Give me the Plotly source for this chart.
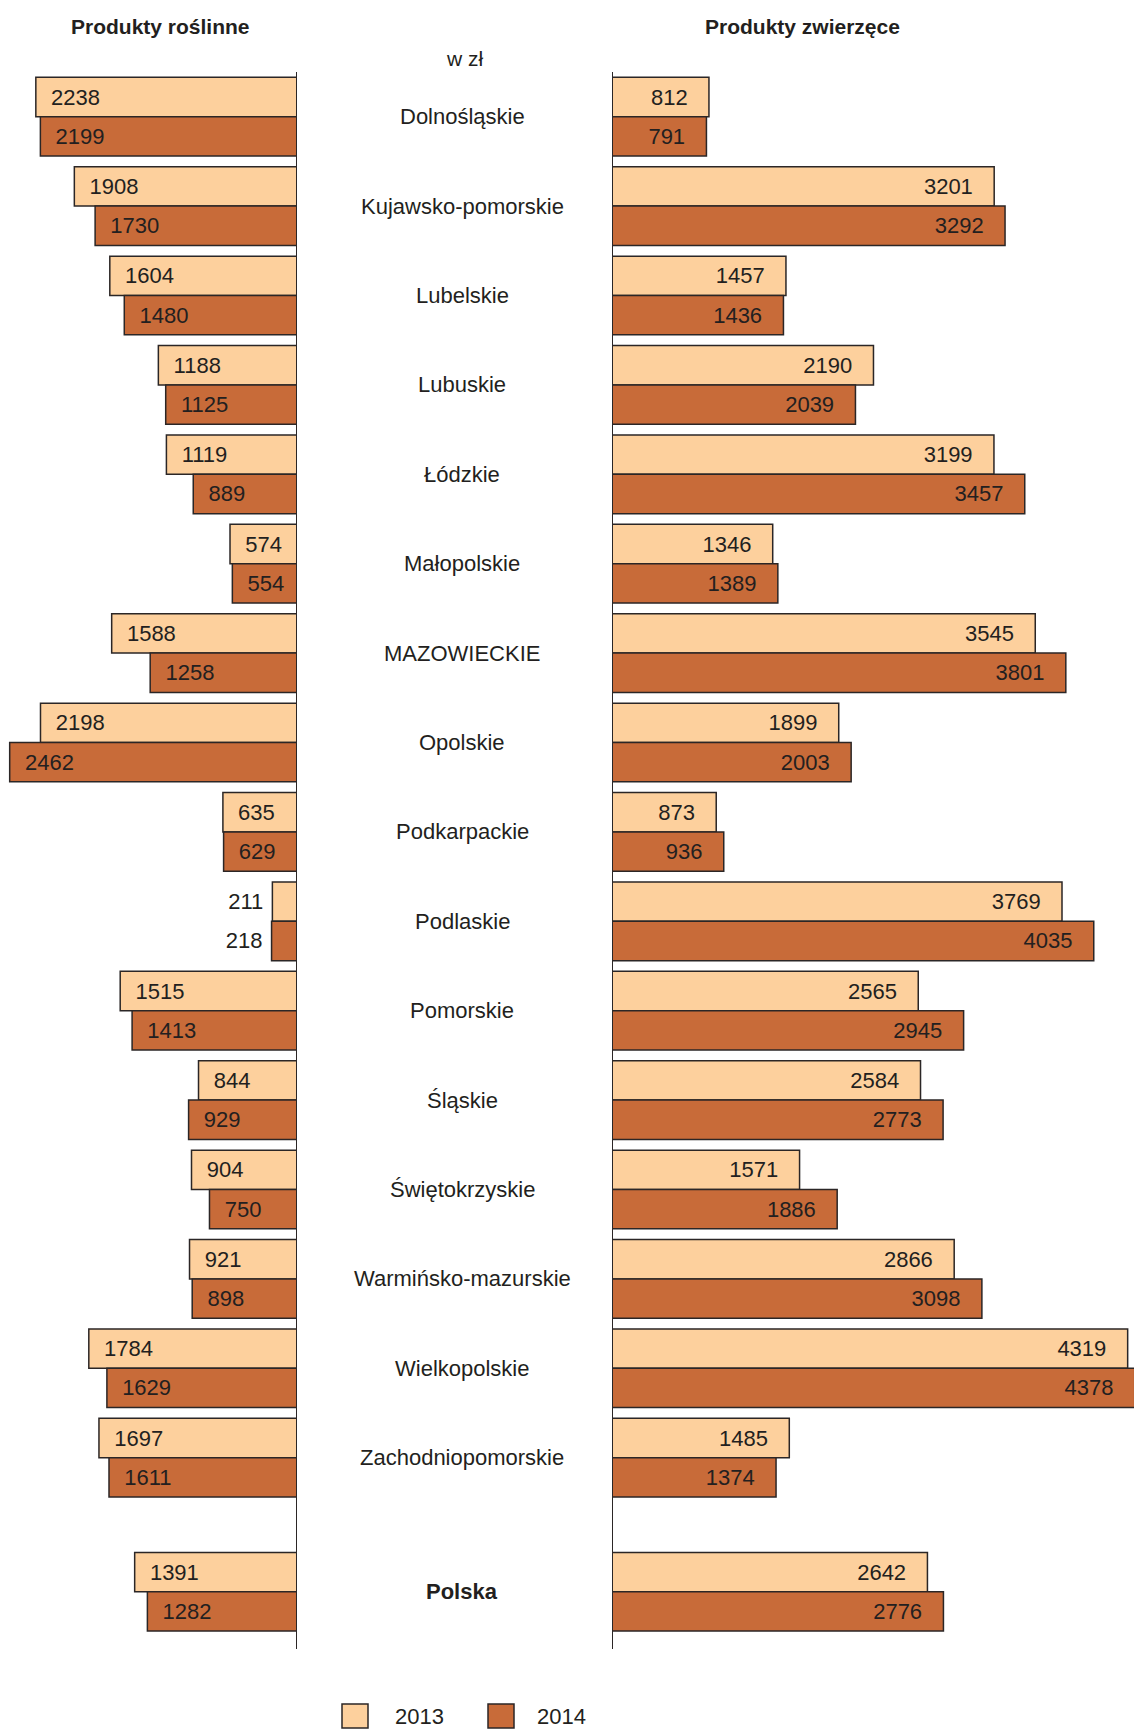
import plotly.graph_objects as go

regions = ["Dolnośląskie", "Kujawsko-pomorskie", "Lubelskie", "Lubuskie", "Łódzkie",
           "Małopolskie", "MAZOWIECKIE", "Opolskie", "Podkarpackie", "Podlaskie",
           "Pomorskie", "Śląskie", "Świętokrzyskie", "Warmińsko-mazurskie",
           "Wielkopolskie", "Zachodniopomorskie", "Polska"]
plant_2013 = [2238, 1908, 1604, 1188, 1119, 574, 1588, 2198, 635, 211, 1515, 844, 904, 921, 1784, 1697, 1391]
plant_2014 = [2199, 1730, 1480, 1125, 889, 554, 1258, 2462, 629, 218, 1413, 929, 750, 898, 1629, 1611, 1282]
animal_2013 = [812, 3201, 1457, 2190, 3199, 1346, 3545, 1899, 873, 3769, 2565, 2584, 1571, 2866, 4319, 1485, 2642]
animal_2014 = [791, 3292, 1436, 2039, 3457, 1389, 3801, 2003, 936, 4035, 2945, 2773, 1886, 3098, 4378, 1374, 2776]
years = ["2013", "2014"]

COL13 = "#fdd09d"
COL14 = "#c86b39"
EDGE = "#2b2626"
TXT = "#231f20"
FONT = "Liberation Sans, Arial, sans-serif"
W, H = 1134, 1729
NUM_SIZE = 22

# category positions: the national total is set apart from the regions
ypos = [i for i in range(len(regions) - 1)] + [len(regions) - 1 + 0.5]

NB = "\u00a0"

def left_text(vals):
    txt, pos = [], []
    for v in vals:
        if v < 400:
            txt.append(f"{v}{NB}")
            pos.append("outside")
        else:
            txt.append(f"{NB}{NB}{v}")
            pos.append("inside")
    return txt, pos

def right_text(vals):
    return [f"{v}{NB}{NB}{NB}" for v in vals], ["inside"] * len(vals)

fig = go.Figure()
for vals, col, name in [(plant_2013, COL13, years[0]), (plant_2014, COL14, years[1])]:
    t, p = left_text(vals)
    fig.add_trace(go.Bar(x=vals, y=ypos, orientation="h", name=name, xaxis="x", yaxis="y",
                         marker=dict(color=col, line=dict(color=EDGE, width=1.5)),
                         text=t, textposition=p, insidetextanchor="end",
                         textfont=dict(family=FONT, size=NUM_SIZE, color=TXT),
                         showlegend=False, hoverinfo="x"))
for vals, col, name in [(animal_2013, COL13, years[0]), (animal_2014, COL14, years[1])]:
    t, p = right_text(vals)
    fig.add_trace(go.Bar(x=vals, y=ypos, orientation="h", name=name, xaxis="x2", yaxis="y",
                         marker=dict(color=col, line=dict(color=EDGE, width=1.5)),
                         text=t, textposition=p, insidetextanchor="end",
                         textfont=dict(family=FONT, size=NUM_SIZE, color=TXT),
                         showlegend=False, hoverinfo="x"))

left_axis_px = 297
right_axis_px = 612
fig.update_layout(
    width=W, height=H, margin=dict(l=0, r=0, t=0, b=0),
    paper_bgcolor="white", plot_bgcolor="white",
    barmode="group", bargap=0.12, bargroupgap=0,
    uniformtext=dict(minsize=NUM_SIZE, mode="show"),
    xaxis=dict(domain=[0, left_axis_px / W], range=[2545, 0], visible=False, anchor="y"),
    xaxis2=dict(domain=[right_axis_px / W, 1], range=[0, 4372], visible=False, anchor="y"),
    yaxis=dict(domain=[1 - 1649 / H, 1 - 72 / H], range=[17.14, -0.5], visible=False),
    font=dict(family=FONT, color=TXT),
)

# axis lines
for xr in ["x", "x2"]:
    fig.add_shape(type="line", xref=xr, x0=0, x1=0, yref="y domain", y0=0, y1=1,
                  line=dict(color=EDGE, width=2), layer="above")

# category labels
for name, y in zip(regions, ypos):
    bold = name == "Polska"
    fig.add_annotation(x=462 / W, xref="paper", y=y, yref="y",
                       text=f"<b>{name}</b>" if bold else name, showarrow=False,
                       font=dict(family=FONT, size=22, color=TXT), xanchor="center", yanchor="middle")

# titles
fig.add_annotation(x=160 / W, y=1 - 26 / H, xref="paper", yref="paper", text="<b>Produkty roślinne</b>",
                   showarrow=False, xanchor="center", yanchor="middle",
                   font=dict(family=FONT, size=21, color=TXT))
fig.add_annotation(x=802 / W, y=1 - 26 / H, xref="paper", yref="paper", text="<b>Produkty zwierzęce</b>",
                   showarrow=False, xanchor="center", yanchor="middle",
                   font=dict(family=FONT, size=21, color=TXT))
fig.add_annotation(x=465 / W, y=1 - 58 / H, xref="paper", yref="paper", text="w zł",
                   showarrow=False, xanchor="center", yanchor="middle",
                   font=dict(family=FONT, size=21, color=TXT))

# legend
for (x0, tx), col, name in [((342, 393), COL13, years[0]), ((488, 535), COL14, years[1])]:
    fig.add_shape(type="rect", xref="paper", yref="paper",
                  x0=x0 / W, x1=(x0 + 26) / W, y0=1 - 1728 / H, y1=1 - 1704 / H,
                  fillcolor=col, line=dict(color=EDGE, width=1.5))
    fig.add_annotation(x=tx / W, y=1 - 1716 / H, xref="paper", yref="paper", text=name,
                       showarrow=False, xanchor="left", yanchor="middle",
                       font=dict(family=FONT, size=22, color=TXT))

fig.write_html("out.html", config={"displayModeBar": False},
               post_script="document.body.style.margin='0';")
